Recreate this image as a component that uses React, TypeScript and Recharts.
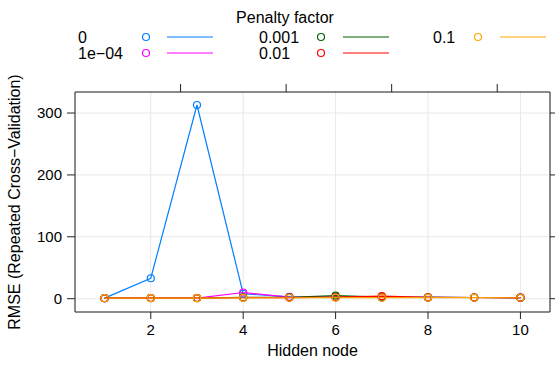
import React from "react";
import { LineChart, Line, XAxis, YAxis, CartesianGrid } from "recharts";

const hiddenNodes = [1, 2, 3, 4, 5, 6, 7, 8, 9, 10];
const rmse0 = [0.9, 33, 313, 8, 2.8, 2.5, 2.2, 2.0, 1.9, 1.6];
const rmse1e4 = [0.9, 1.1, 1.0, 10, 2.6, 2.3, 2.1, 2.0, 1.9, 1.6];
const rmse1e3 = [0.9, 1.0, 1.0, 2.0, 2.0, 5.0, 2.4, 2.0, 1.9, 1.6];
const rmse1e2 = [0.9, 1.0, 1.0, 1.5, 1.8, 2.4, 4.0, 2.3, 1.9, 1.6];
const rmse1e1 = [0.9, 0.9, 0.9, 1.4, 1.5, 1.6, 1.6, 1.6, 1.6, 1.5];

const xTicks = [2, 4, 6, 8, 10];
const yTicks = [0, 100, 200, 300];

const series = [
  { key: "p0", label: "0", color: "#0080ff", values: rmse0 },
  { key: "p1e4", label: "1e\u221204", color: "#ff00ff", values: rmse1e4 },
  { key: "p1e3", label: "0.001", color: "#006400", values: rmse1e3 },
  { key: "p1e2", label: "0.01", color: "#ff0000", values: rmse1e2 },
  { key: "p1e1", label: "0.1", color: "#ffa500", values: rmse1e1 },
];

const data = hiddenNodes.map((x, i) => {
  const row: Record<string, number> = { x };
  series.forEach((s) => (row[s.key] = s.values[i]));
  return row;
});

const FONT = "'Liberation Sans', Arial, Helvetica, sans-serif";
const AXIS = "#222";
const xDomain: [number, number] = [0.36, 10.64];
const yDomain: [number, number] = [-21.5, 334];

// legend column positions (label left, circle centre, line start)
const legendCols = [
  { label: 78, dot: 146, line: 167 },
  { label: 259, dot: 321, line: 343 },
  { label: 433, dot: 478, line: 500 },
];
const legendRows = [37, 53];

function LegendBlock() {
  return (
    <svg
      width={555}
      height={70}
      style={{ position: "absolute", left: 0, top: 0, fontFamily: FONT }}
    >
      <text x={285} y={23} fontSize={16} textAnchor="middle" fill="#000">
        Penalty factor
      </text>
      {series.map((s, i) => {
        const col = legendCols[Math.floor(i / 2)];
        const y = legendRows[i % 2];
        return (
          <g key={s.key}>
            <text x={col.label} y={y + 5.5} fontSize={16} fill="#000">
              {s.label}
            </text>
            <circle cx={col.dot} cy={y} r={3.5} fill="none" stroke={s.color} strokeWidth={1.2} />
            <line x1={col.line} x2={col.line + 46} y1={y} y2={y} stroke={s.color} strokeWidth={1.2} />
          </g>
        );
      })}
    </svg>
  );
}

export default function App() {
  return (
    <div style={{ position: "absolute", left: 0, top: 0, width: 555, height: 369, background: "#fff" }}>
      <LineChart
        width={555}
        height={369}
        data={data}
        margin={{ top: 84, right: 0, bottom: 12, left: 0 }}
        style={{ fontFamily: FONT }}
      >
        <CartesianGrid stroke="#e8e8e8" strokeWidth={1} />
        <XAxis
          dataKey="x"
          type="number"
          domain={xDomain}
          allowDataOverflow
          ticks={xTicks}
          height={45}
          tickSize={7}
          tickMargin={5}
          stroke={AXIS}
          tick={{ fill: "#000", fontSize: 15 }}
          label={{ value: "Hidden node", position: "insideBottom", offset: 1, fontSize: 16, fill: "#000" }}
        />
        <XAxis
          xAxisId="top"
          orientation="top"
          type="number"
          domain={xDomain}
          allowDataOverflow
          ticks={xTicks}
          height={8}
          tickSize={8}
          stroke={AXIS}
          tickFormatter={() => ""}
        />
        <YAxis
          type="number"
          domain={yDomain}
          allowDataOverflow
          ticks={yTicks}
          width={75}
          tickSize={8}
          tickMargin={5}
          stroke={AXIS}
          tick={{ fill: "#000", fontSize: 15 }}
          label={{
            value: "RMSE (Repeated Cross\u2212Validation)",
            angle: -90,
            position: "insideLeft",
            offset: 14,
            fontSize: 16,
            fill: "#000",
            style: { textAnchor: "middle" },
          }}
        />
        <YAxis
          yAxisId="right"
          orientation="right"
          type="number"
          domain={yDomain}
          allowDataOverflow
          ticks={yTicks}
          width={5}
          tickSize={5}
          stroke={AXIS}
          tickFormatter={() => ""}
        />
        {series.map((s) => (
          <Line
            key={s.key}
            dataKey={s.key}
            type="linear"
            stroke={s.color}
            strokeWidth={1.2}
            dot={{ r: 3.5, fill: "none", stroke: s.color, strokeWidth: 1.2 }}
            activeDot={false}
            isAnimationActive={false}
          />
        ))}
      </LineChart>
      <LegendBlock />
    </div>
  );
}
